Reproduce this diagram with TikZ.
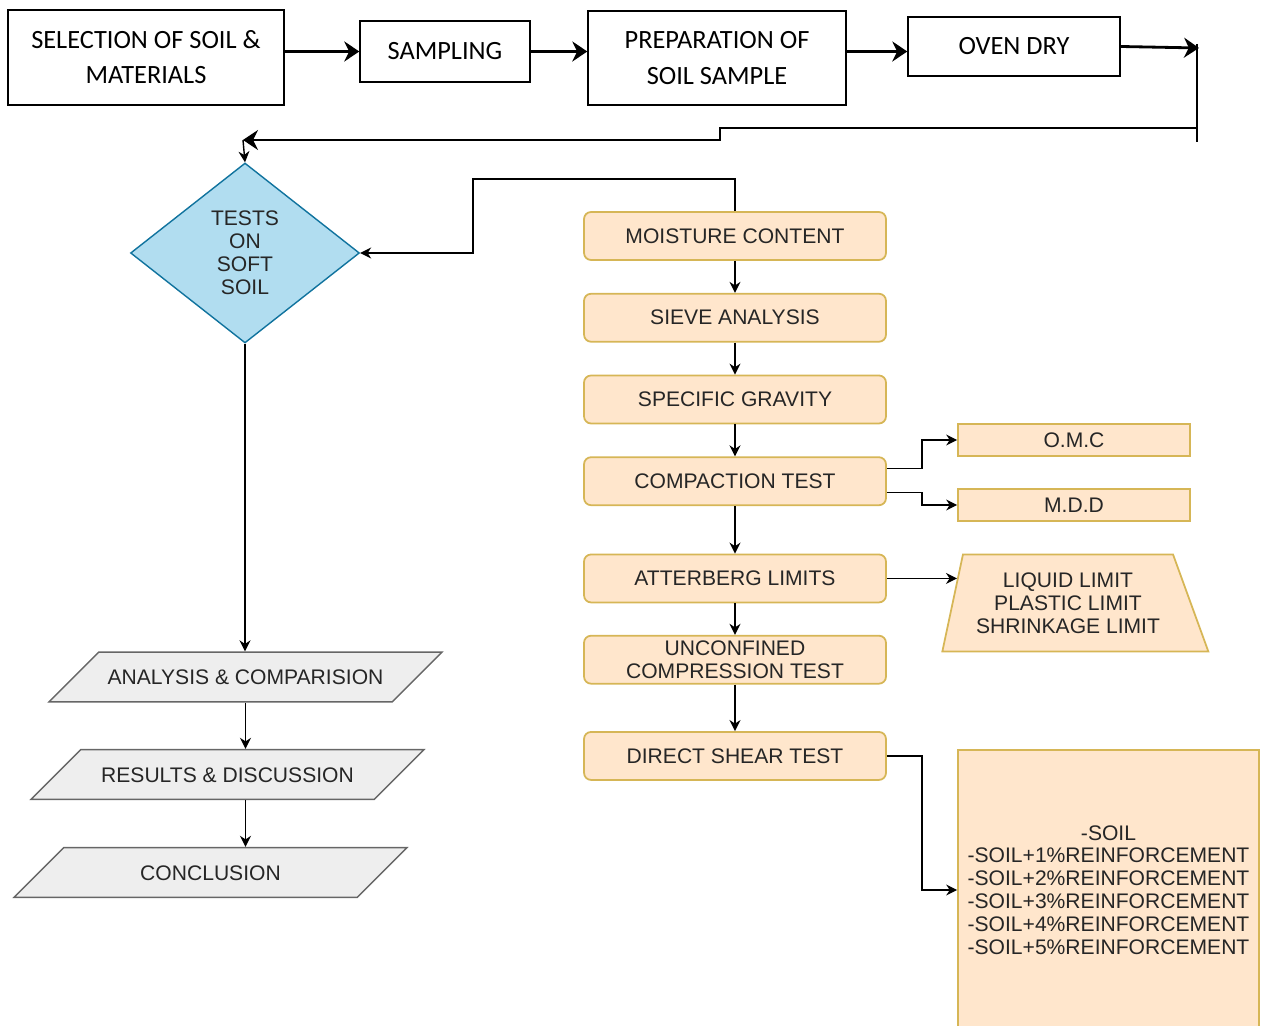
\documentclass[tikz,border=0pt]{standalone}
\usepackage{fontspec}
\setmainfont{Liberation Sans}
\newfontfamily\stagefont{Carlito}
\usetikzlibrary{arrows.meta,positioning,shapes.geometric,calc}
\definecolor{peachbox}{HTML}{FFE6CC}
\definecolor{peachline}{HTML}{D6B656}
\definecolor{bluebox}{HTML}{B1DDF0}
\definecolor{blueline}{HTML}{10739E}
\definecolor{greybox}{HTML}{EEEEEE}
\definecolor{greyline}{HTML}{666666}
\tikzset{
  stagebox/.style={
    rectangle, draw=black, line width=0.8pt, fill=white, inner sep=0pt,
    align=center, font=\stagefont\fontsize{15}{20}\selectfont
  },
  testbox/.style={
    rectangle, rounded corners=4pt, draw=peachline, line width=1pt, fill=peachbox,
    minimum width=6.04cm, minimum height=0.96cm, inner sep=0pt,
    align=center, font=\fontsize{12}{13}\selectfont, text=black!85
  },
  valuebox/.style={
    rectangle, draw=peachline, line width=1pt, fill=peachbox, inner sep=0pt,
    align=center, font=\fontsize{12}{13}\selectfont, text=black!85
  },
  reportbox/.style={
    trapezium, trapezium left angle=45, trapezium right angle=135, trapezium stretches body,
    draw=greyline, line width=0.8pt, fill=greybox,
    minimum width=7.86cm, text height=9pt, text depth=0pt, inner xsep=0pt, inner ysep=9.7pt,
    font=\fontsize{12}{13}\selectfont, text=black!85
  },
  bigarrow/.style={-{Stealth[length=3mm,width=4mm]}, line width=1.6pt},
  linkarrow/.style={-{Stealth[length=2.2mm,width=2.2mm]}, line width=0.8pt}
}

\begin{document}
\begin{tikzpicture}[x=0.02cm, y=-0.02cm]
\useasboundingbox (0,0) rectangle (1261,1026);

% preparation stages
\node[stagebox, minimum width=5.52cm, minimum height=1.9cm] (sel) at (146,57.5) {SELECTION OF SOIL \&\\MATERIALS};
\node[stagebox, minimum width=3.4cm, minimum height=1.22cm] (samp) at (445,51.5) {SAMPLING};
\node[stagebox, minimum width=5.16cm, minimum height=1.88cm] (prep) at (717,58) {PREPARATION OF\\SOIL SAMPLE};
\node[stagebox, minimum width=4.24cm, minimum height=1.18cm] (oven) at (1014,46.5) {OVEN DRY};

\draw[bigarrow] (sel.east |- samp.west) -- (samp.west);
\draw[bigarrow] (samp.east) -- (samp.east -| prep.west);
\draw[bigarrow] (prep.east |- samp.west) -- (samp.west -| oven.west);

\coordinate (turn) at (1199,48);
\coordinate (rtop) at (1197,44);
\coordinate (rbot) at (1197,142);
\coordinate (fb1) at (1197,128);
\coordinate (fb2) at (720,128);
\coordinate (fb3) at (720,140);
\coordinate (fb4) at (243,140);
\draw[bigarrow] (oven.east) -- (turn);
\draw[line width=0.7pt] (rtop) -- (rbot);
\draw[-{Stealth[length=3mm,width=4mm]}, line width=0.7pt] (fb1) -- (fb2) -- (fb3) -- (fb4);

% tests
\node[diamond, draw=blueline, line width=0.8pt, fill=bluebox, minimum width=4.58cm, minimum height=3.6cm,
  inner sep=0pt, align=center, font=\fontsize{12}{13}\selectfont, text=black!85] (soft) at (245,253)
  {TESTS\\ON\\SOFT\\SOIL};
\draw[linkarrow] (fb4) -- (soft.north);

\node[testbox] (moist) at (735,236) {MOISTURE CONTENT};
\node[testbox, below=0.64cm of moist] (sieve) {SIEVE ANALYSIS};
\node[testbox, below=0.64cm of sieve] (spec) {SPECIFIC GRAVITY};
\node[testbox, below=0.64cm of spec] (compac) {COMPACTION TEST};
\node[testbox, below=0.95cm of compac] (atter) {ATTERBERG LIMITS};
\node[testbox, below=0.63cm of atter] (uncon) {UNCONFINED\\COMPRESSION TEST};
\node[testbox, below=0.93cm of uncon] (direct) {DIRECT SHEAR TEST};

\coordinate (loop) at (473,179);
\draw[linkarrow] (moist.north) |- (loop) |- (soft.east);
\draw[linkarrow] (moist) -- (sieve);
\draw[linkarrow] (sieve) -- (spec);
\draw[linkarrow, line width=1.3pt] (spec) -- (compac);
\draw[linkarrow] (compac) -- (atter);
\draw[linkarrow, line width=1.3pt] (atter) -- (uncon);
\draw[linkarrow, line width=1.1pt] (uncon) -- (direct);

% results of tests
\node[valuebox, minimum width=4.64cm, minimum height=0.64cm] (omc) at (1074,440) {O.M.C};
\node[valuebox, minimum width=4.64cm, minimum height=0.64cm] (mdd) at (1074,505) {M.D.D};
\node[trapezium, trapezium left angle=78, trapezium right angle=70, trapezium stretches body,
  draw=peachline, line width=1pt, fill=peachbox, minimum width=5.32cm, inner xsep=0pt, inner ysep=10.3pt,
  align=center, font=\fontsize{12}{13}\selectfont, text=black!85] (limits) at (1068,603)
  {LIQUID LIMIT\\PLASTIC LIMIT\\SHRINKAGE LIMIT};
\node[valuebox, minimum width=6.02cm, minimum height=5.6cm] (mix) at (1108.5,890)
  {-SOIL\\-SOIL+1\%REINFORCEMENT\\-SOIL+2\%REINFORCEMENT\\-SOIL+3\%REINFORCEMENT\\-SOIL+4\%REINFORCEMENT\\-SOIL+5\%REINFORCEMENT};

\coordinate (limitin) at ($(limits.top left corner)!0.25!(limits.bottom left corner)$);
\draw[linkarrow] ([yshift=0.26cm]compac.east) -- ++(35,0) |- (omc.west);
\draw[linkarrow] ([yshift=-0.22cm]compac.east) -- ++(35,0) |- (mdd.west);
\draw[linkarrow] (atter.east) -- (atter.east -| limitin);
\draw[linkarrow] (direct.east) -- ++(35,0) |- (mix.west);

% report
\node[reportbox] (anal) at (245.5,677) {ANALYSIS \& COMPARISION};
\node[reportbox] (res) at (227.5,774.5) {RESULTS \& DISCUSSION};
\node[reportbox] (concl) at (210.5,872.5) {CONCLUSION};

\draw[linkarrow] (soft.south) -- (soft.south |- anal.north);
\draw[linkarrow] (anal.south) -- (anal.south |- res.north);
\draw[linkarrow] (anal.south |- res.south) -- (anal.south |- concl.north);
\end{tikzpicture}
\end{document}
